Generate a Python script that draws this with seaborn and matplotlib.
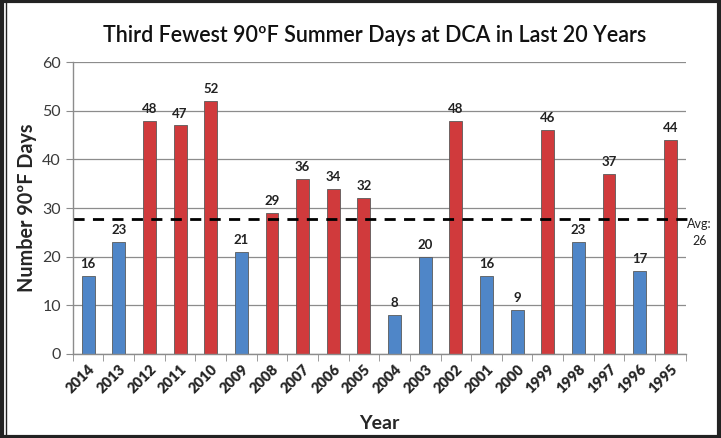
import matplotlib
matplotlib.use("Agg")
import matplotlib.pyplot as plt
import seaborn as sns
import pandas as pd
from matplotlib.patches import Rectangle

# Data
years = ["2014", "2013", "2012", "2011", "2010", "2009", "2008", "2007", "2006", "2005",
         "2004", "2003", "2002", "2001", "2000", "1999", "1998", "1997", "1996", "1995"]
days = [16, 23, 48, 47, 52, 21, 29, 36, 34, 32, 8, 20, 48, 16, 9, 46, 23, 37, 17, 44]
groups = ["below", "below", "above", "above", "above", "below", "above", "above", "above", "above",
          "below", "below", "above", "below", "below", "above", "below", "above", "below", "above"]
avg_line = 27.7
avg_label = "Avg:\n26"

df = pd.DataFrame({"Year": years, "Days": days, "Group": groups})

sns.set_style("white")
plt.rcParams["font.family"] = ["Lato", "DejaVu Sans"]

fig = plt.figure(figsize=(7.21, 4.38), dpi=100)
ax = fig.add_axes([0.101, 0.192, 0.850, 0.666])

palette = {"below": "#4f86c8", "above": "#d03a3c"}
sns.barplot(data=df, x="Year", y="Days", hue="Group", palette=palette, order=years,
            dodge=False, legend=False, width=0.42, saturation=1, ax=ax,
            edgecolor="#5a5a5a", linewidth=0.6)

ax.set_ylim(0, 60)
ax.set_xlim(-0.5, len(years) - 0.5)
ax.set_yticks(range(0, 61, 10))
ax.yaxis.grid(True, color="#8c8c8c", linewidth=0.9)
ax.set_axisbelow(True)

for s in ["top", "right"]:
    ax.spines[s].set_visible(False)
for s in ["left", "bottom"]:
    ax.spines[s].set_color("#8c8c8c")
    ax.spines[s].set_linewidth(1.0)

# tick marks between categories
ax.set_xticks([i - 0.5 for i in range(len(years) + 1)], minor=True)
ax.tick_params(axis="x", which="minor", length=5, color="#8c8c8c", direction="out", bottom=True)
ax.tick_params(axis="x", which="major", length=0, pad=6)
ax.tick_params(axis="y", length=5, color="#8c8c8c", direction="out", left=True, labelsize=11.5,
               labelcolor="#3a3a3a")
plt.setp(ax.get_xticklabels(), rotation=45, ha="right", rotation_mode="anchor",
         fontsize=10.5, fontweight="heavy")

for i, v in enumerate(days):
    ax.text(i, v + 1.2, str(v), ha="center", va="bottom", fontsize=9.5, fontweight="bold",
            color="#222222")

ax.axhline(avg_line, color="black", linestyle=(0, (4, 3)), linewidth=2.0, xmax=1.005,
           clip_on=False)
ax.text(1.023, (avg_line + 0.3) / 60, avg_label, transform=ax.transAxes, ha="center", va="top",
        fontsize=9, color="#222222", linespacing=1.5)

ax.set_xlabel("Year", fontsize=14, fontweight="bold", labelpad=14)
ax.set_ylabel("Number 90\u00baF Days", fontsize=14.2, fontweight="bold", labelpad=4)
fig.text(0.52, 0.92, "Third Fewest 90\u00baF Summer Days at DCA in Last 20 Years",
         ha="center", va="center", fontsize=15.5, fontweight="semibold", color="#111111")

# figure frame
fig.patches.append(Rectangle((0.003, 0.003), 0.994, 0.994, transform=fig.transFigure,
                             fill=False, edgecolor="#222222", linewidth=3))
fig.patches.append(Rectangle((0.009, 0.0), 0.0, 1.0, transform=fig.transFigure,
                             fill=False, edgecolor="#222222", linewidth=1))

fig.savefig("out.png", dpi=100)
